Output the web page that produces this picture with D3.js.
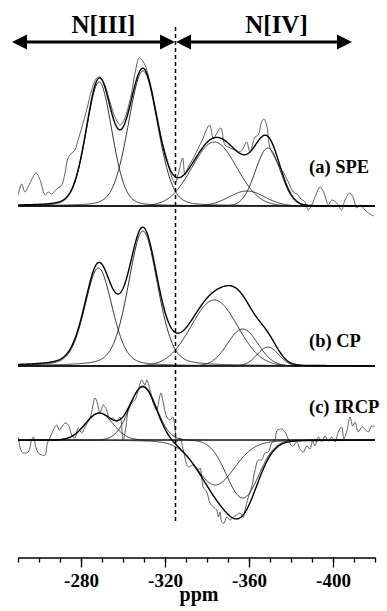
<!DOCTYPE html>
<html>
<head>
<meta charset="utf-8">
<script src="https://cdn.jsdelivr.net/npm/d3@7"></script>
<style>
  html, body { margin: 0; padding: 0; background: #fff; }
  svg { display: block; }
  text { font-family: "Liberation Serif", "Times New Roman", serif; font-weight: bold; fill: #000; }
</style>
</head>
<body>
<svg id="chart" width="387" height="611"></svg>
<script>
// ---------- DATA ----------
const ppmDomain = [-250, -420];
const majorTicks = [-280, -320, -360, -400];
const minorTicks = d3.range(-250, -421, -10);
const dividerPpm = -325;
const regionLabels = ["N[III]", "N[IV]"];
const traceLabels = ["(a) SPE", "(b) CP", "(c) IRCP"];

// (a) SPE – fitted components
const speCenters = [-288.6, -309.5, -343.5, -369, -359];
const speHeights = [124, 135, 64, 58, 15];
const speWidths  = [14.5, 16.5, 25, 14, 20];
const speEta     = [0.15, 0.15, 0, 0, 0];
// (a) SPE – experimental spectrum
const speRawPpm = [-250.1,-251.8,-253.3,-255.7,-258.6,-260.5,-262.9,-264.3,-266,-267.6,-269,-270.8,-272.4,-273.8,-275.6,-277.1,-278.6,-280.3,-282.7,-285.1,-287.5,-289,-291.4,-293.8,-296.2,-298.6,-300.5,-302.4,-304.1,-305.7,-307.8,-309.7,-311.3,-313.7,-316,-318.4,-320.8,-323.2,-324.8,-326.2,-328.4,-329.5,-331.1,-333.5,-335.9,-338.2,-340.1,-341.4,-343,-346.5,-348.6,-351,-353.3,-355.7,-357.3,-358.9,-360.5,-362.9,-364.4,-366,-367.1,-368.4,-370,-372.4,-374,-376.3,-378.7,-381.1,-383.5,-384.3,-386.7,-388.2,-389.9,-392.2,-393.8,-395.7,-397.8,-399.4,-401.8,-404.1,-405.7,-408.1,-409.7,-411.3,-412.9,-415.2,-418.4,-419.5];
const speRawVal = [11,22,14,23,33,26,11,14,12,15,18,21,33,48,53,56,66,78,96,116,128,129,121,104,89,81,86,98,113,133,148,144,136,113,89,66,48,29,23,31,48,31,39,48,58,68,78,81,68,78,61,58,56,54,58,64,54,69,71,84,87,81,58,48,41,34,24,14,11,8,4,-4,1,13,19,13,1,6,3,-4,6,13,8,-2,1,-4,-9,-10];

// (b) CP – fitted components
const cpCenters = [-288.3, -309.5, -343.5, -357, -369];
const cpHeights = [98, 135, 66, 37, 19];
const cpWidths  = [15.5, 16.5, 26, 17, 12];
const cpEta     = [0.25, 0.25, 0, 0, 0];

// (c) IRCP – fitted components
const ircpCenters = [-288.6, -309.5, -344, -357];
const ircpHeights = [27, 54, -45, -58];
const ircpWidths  = [15.5, 15, 22, 18];
const ircpEta     = [0, 0, 0.2, 0];
// (c) IRCP – experimental spectrum
const ircpRawPpm = [-250.1,-251.8,-253.3,-254.9,-256.5,-257.3,-258.6,-259.7,-261.3,-262.9,-264,-265.2,-266.8,-268.4,-269.7,-270.8,-272.4,-274,-275.6,-277.1,-278.7,-280.3,-281.9,-284.3,-286.7,-287.8,-289,-290.6,-292.2,-293.8,-295.4,-297,-298.6,-300.1,-301.4,-302.5,-304.1,-305.7,-307.3,-308.9,-310.5,-311.3,-312.9,-314.4,-316,-318,-319.2,-320.8,-322.4,-323.7,-324.8,-325.6,-327.1,-328.7,-331.1,-333.5,-335.9,-336.7,-338.2,-339.9,-341.4,-343,-344.6,-345.4,-346.2,-347,-348.1,-349.4,-351,-352.5,-354.1,-355.7,-357.3,-358.1,-359.7,-361.3,-362.9,-364.4,-366,-367.6,-369.2,-370.8,-372.4,-373.2,-375.6,-377.1,-378.7,-380.3,-381.1,-382.7,-384.3,-385.9,-387.5,-389,-390.3,-391.4,-393,-394.6,-396.2,-397.8,-399.4,-401,-402.5,-404.1,-405.2,-406.8,-408.1,-409.4,-410.5,-412,-413.7,-415.2,-416.8,-418.4,-420];
const ircpRawVal = [3,-12,-13,-12,0,3,-8,-13,-15,-15,-3,2,10,15,10,13,17,15,5,2,12,7,13,22,42,37,27,35,30,20,22,18,23,0,13,30,37,40,50,60,55,60,50,37,30,47,37,23,20,23,10,-2,2,-10,-27,-25,-30,-28,-47,-52,-63,-67,-70,-77,-72,-82,-83,-77,-80,-77,-75,-73,-77,-70,-57,-47,-30,-20,-20,-13,-12,-3,0,9,11,8,1,-6,-6,-2,-9,-12,-6,-9,-1,-6,3,-2,4,-1,3,-2,8,13,1,11,23,14,18,8,13,11,8,14,13];

// ---------- DRAWING ----------
const svg = d3.select("#chart");
const x = d3.scaleLinear().domain(ppmDomain).range([18, 375]);

function peak(p, c, h, w, eta) {
  const d = (p - c) / w;
  const g = Math.exp(-4 * Math.LN2 * d * d);
  const l = 1 / (1 + 4 * d * d);
  return h * (eta * l + (1 - eta) * g);
}
const grid = d3.range(ppmDomain[0], ppmDomain[1] - 0.001, -0.25);

function panel(base, centers, heights, widths, eta, rawPpm, rawVal, baseColor) {
  const y = d3.scaleLinear().domain([0, 100]).range([base, base - 100]);
  const g = svg.append("g");
  g.append("line").attr("x1", x(ppmDomain[0])).attr("x2", x(ppmDomain[1]))
    .attr("y1", y(0)).attr("y2", y(0)).attr("stroke", baseColor).attr("stroke-width", 1.3);
  if (rawPpm) {
    const raw = rawPpm.map((p, i) => [p, rawVal[i]]);
    const rawLine = d3.line().x(d => x(d[0])).y(d => y(d[1])).curve(d3.curveCatmullRom.alpha(0.5));
    g.append("path").datum(raw).attr("d", rawLine)
      .attr("fill", "none").attr("stroke", "#3a3a3a").attr("stroke-width", 0.8);
  }
  const lin = d3.line().x(d => x(d[0])).y(d => y(d[1]));
  centers.forEach((c, i) => {
    const pts = grid.map(p => [p, peak(p, c, heights[i], widths[i], eta[i])]);
    g.append("path").datum(pts).attr("d", lin).attr("fill", "none")
      .attr("stroke", "#1a1a1a").attr("stroke-width", 0.9);
  });
  const sum = grid.map(p => [p, d3.sum(centers, (c, i) => peak(p, c, heights[i], widths[i], eta[i]))]);
  g.append("path").datum(sum).attr("d", lin).attr("fill", "none")
    .attr("stroke", "#000").attr("stroke-width", 1.4);
}

panel(206, speCenters, speHeights, speWidths, speEta, speRawPpm, speRawVal, "#000");
panel(366, cpCenters, cpHeights, cpWidths, cpEta, null, null, "#000");
panel(440, ircpCenters, ircpHeights, ircpWidths, ircpEta, ircpRawPpm, ircpRawVal, "#888");

// trace labels
const labelBase = [172.5, 347, 413];
traceLabels.forEach((t, i) => {
  svg.append("text").attr("x", 309).attr("y", labelBase[i])
    .attr("font-size", 18.5).text(t);
});

// divider
svg.append("line").attr("x1", x(dividerPpm)).attr("x2", x(dividerPpm))
  .attr("y1", 27).attr("y2", 522).attr("stroke", "#000")
  .attr("stroke-width", 1.5).attr("stroke-dasharray", "4,3");

// region arrows
function arrow(x1, x2, yy) {
  const hl = 15, hh = 7.5;
  svg.append("line").attr("x1", x1 + hl - 1).attr("x2", x2 - hl + 1).attr("y1", yy).attr("y2", yy)
    .attr("stroke", "#000").attr("stroke-width", 3);
  svg.append("path").attr("d", `M${x1},${yy}L${x1 + hl},${yy - hh}L${x1 + hl},${yy + hh}Z`).attr("fill", "#000");
  svg.append("path").attr("d", `M${x2},${yy}L${x2 - hl},${yy - hh}L${x2 - hl},${yy + hh}Z`).attr("fill", "#000");
}
const xd = x(dividerPpm);
arrow(12, xd - 0.5, 42);
arrow(xd + 0.5, 352, 42);
svg.append("text").attr("x", 103.5).attr("y", 33).attr("text-anchor", "middle")
  .attr("font-size", 25).text(regionLabels[0]);
svg.append("text").attr("x", 276.5).attr("y", 33).attr("text-anchor", "middle")
  .attr("font-size", 25).text(regionLabels[1]);

// axis
const axisY = 557.5;
const minorAxis = d3.axisBottom(x).tickValues(minorTicks).tickSize(5).tickSizeOuter(0).tickFormat("");
const majorAxis = d3.axisBottom(x).tickValues(majorTicks).tickSize(10).tickSizeOuter(0).tickPadding(6)
  .tickFormat(d => String(d));
const gMin = svg.append("g").attr("transform", `translate(0,${axisY})`).call(minorAxis);
const gMaj = svg.append("g").attr("transform", `translate(0,${axisY})`).call(majorAxis);
[gMin, gMaj].forEach(g => {
  g.attr("font-family", null);
  g.selectAll("path, line").attr("stroke", "#000").attr("stroke-width", 1.3);
});
gMaj.selectAll("text").attr("font-size", 19)
  .style("font-family", '"Liberation Serif", serif').style("font-weight", "bold").attr("fill", "#000");
gMaj.select(".domain").remove();
gMin.selectAll("text").remove();
svg.append("text").attr("x", 199).attr("y", 601).attr("text-anchor", "middle")
  .attr("font-size", 20).text("ppm");
</script>
</body>
</html>
